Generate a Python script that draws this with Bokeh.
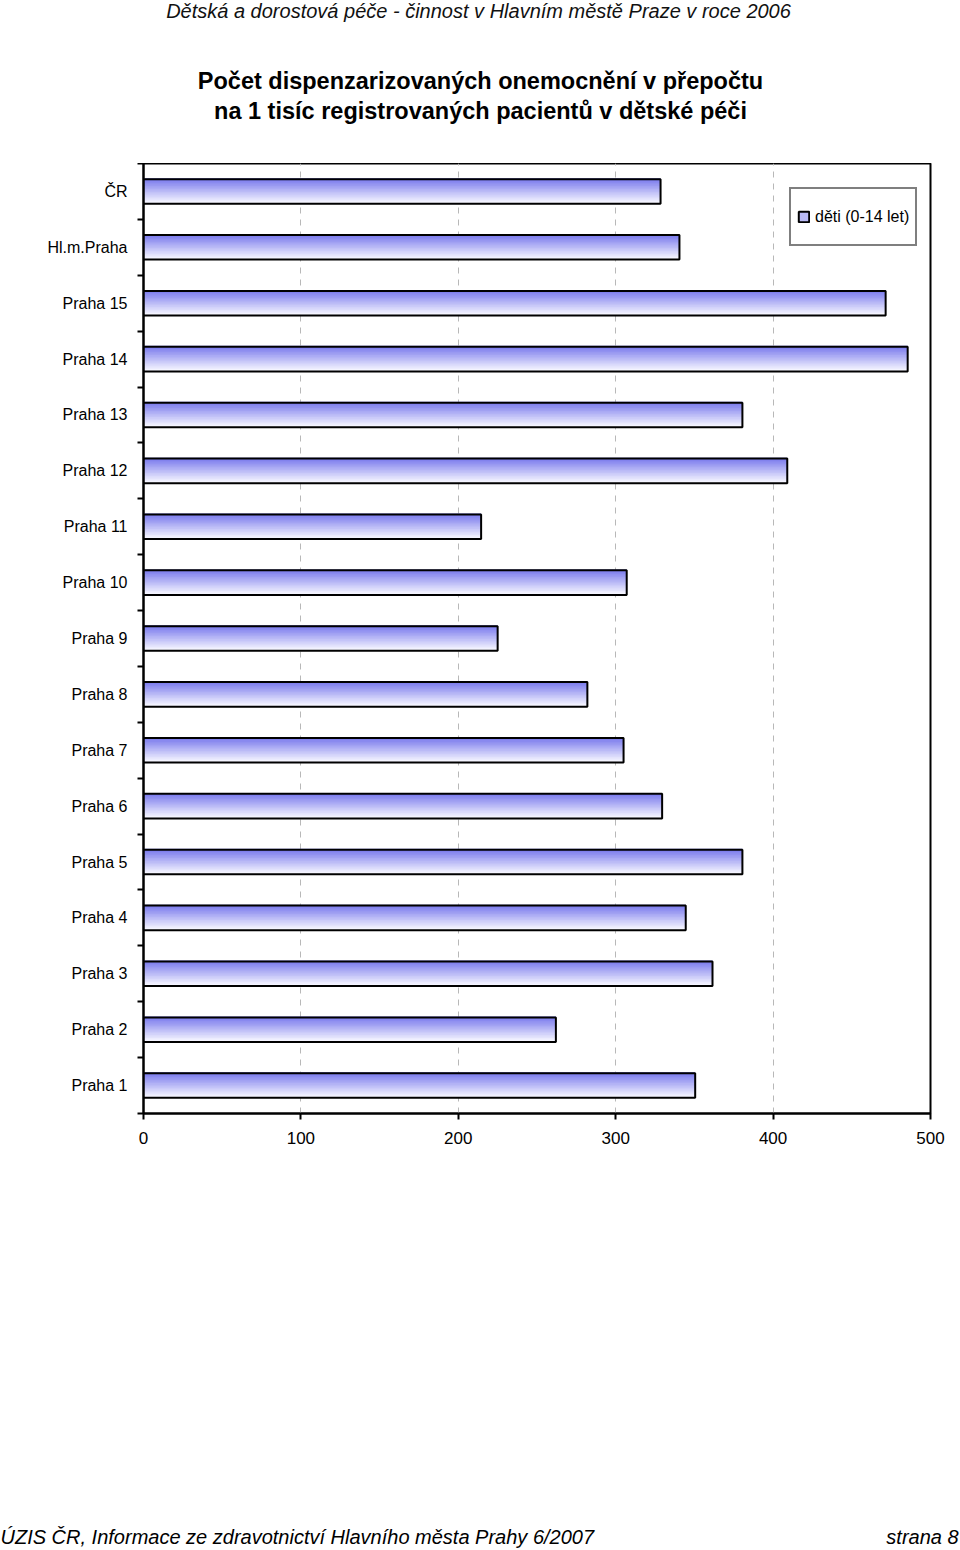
from bokeh.plotting import figure
from bokeh.layouts import column
from bokeh.models import Range1d, FixedTicker, Legend, LegendItem, LinearAxis
from bokeh.core.properties import value
from bokeh.embed import file_html
from bokeh.resources import INLINE

categories = ["ČR", "Hl.m.Praha", "Praha 15", "Praha 14", "Praha 13", "Praha 12",
              "Praha 11", "Praha 10", "Praha 9", "Praha 8", "Praha 7", "Praha 6",
              "Praha 5", "Praha 4", "Praha 3", "Praha 2", "Praha 1"]
values = [328.5, 340.5, 471.5, 485.5, 380.5, 409.0, 214.5, 307.0, 225.0, 282.0,
          305.0, 329.5, 380.5, 344.5, 361.5, 262.0, 350.5]
x_ticks = [0, 100, 200, 300, 400, 500]
series_name = "děti (0-14 let)"
header_text = "Dětská a dorostová péče - činnost v Hlavním městě Praze v roce 2006"
title_lines = ["Počet dispenzarizovaných onemocnění v přepočtu",
               "na 1 tisíc registrovaných pacientů v dětské péči"]
footer_left = "ÚZIS ČR, Informace ze zdravotnictví Hlavního města Prahy 6/2007"
footer_right = "strana 8"

FONT = "Liberation Sans"
n = len(categories)
centers = [n - i - 0.5 for i in range(n)]
boundaries = list(range(n + 1))

W, H = 960, 1550
FL, FR, FT, FB = 143, 930, 163, 1113
MAIN_BOTTOM = 1175

def blank(height, y0, bottom=0):
    # page-pixel coordinates; the frame is aligned with the main chart's frame
    f = figure(width=W, height=height, output_backend="svg", toolbar_location=None,
               x_range=Range1d(FL, FR), y_range=Range1d(y0 + height - bottom, y0),
               min_border_left=FL, min_border_right=W - FR,
               min_border_top=0, min_border_bottom=bottom)
    f.axis.visible = False
    f.grid.visible = False
    f.outline_line_color = None
    return f

# header
head = blank(FT, 0)
head.text(x=[478], y=[10], text=[header_text], text_font=value(FONT),
          text_font_size="20px", text_font_style="italic", text_align="center",
          text_baseline="middle", text_color="#111111")
head.text(x=[480, 480], y=[80, 110], text=title_lines, text_font=value(FONT),
          text_font_size="23.5px", text_font_style="bold", text_align="center",
          text_baseline="middle", text_color="black")

# main chart
p = figure(width=W, height=MAIN_BOTTOM - FT, output_backend="svg", toolbar_location=None,
           x_range=Range1d(0, 500), y_range=Range1d(0, n),
           min_border_left=FL, min_border_right=W - FR,
           min_border_top=0, min_border_bottom=MAIN_BOTTOM - FB)
p.outline_line_color = "black"
p.outline_line_width = 2

bar_h = 0.44
nstrip = 16
top_c = (120, 120, 236)
bot_c = (244, 244, 255)
strips = []
for k in range(nstrip):
    t = k / (nstrip - 1)
    c = tuple(int(round(top_c[j] + (bot_c[j] - top_c[j]) * t)) for j in range(3))
    col = "#%02x%02x%02x" % c
    sh = bar_h / nstrip
    off = bar_h / 2 - sh * (k + 0.5)
    r = p.hbar(y=[cy + off + sh * 0.3 for cy in centers], right=values, left=0,
               height=sh * 1.6, fill_color=col, line_color=None)
    strips.append(r)
outline = p.hbar(y=centers, right=values, left=0, height=bar_h, fill_alpha=0,
                 line_color="black", line_width=2)

p.xaxis.ticker = FixedTicker(ticks=x_ticks)
p.xaxis.major_tick_out = 6
p.xaxis.major_tick_in = 0
p.xaxis.minor_tick_out = 0
p.xaxis.axis_line_width = 2
p.xaxis.major_tick_line_width = 2
p.xaxis.major_label_text_font = FONT
p.xaxis.major_label_text_font_size = "17px"
p.xaxis.major_label_text_color = "black"
p.xaxis.major_label_standoff = 12

p.yaxis.ticker = FixedTicker(ticks=centers, minor_ticks=boundaries)
p.yaxis.major_label_overrides = {c: lab for c, lab in zip(centers, categories)}
p.yaxis.major_tick_out = 0
p.yaxis.major_tick_in = 0
p.yaxis.minor_tick_out = 6
p.yaxis.minor_tick_in = 0
p.yaxis.minor_tick_line_width = 2
p.yaxis.axis_line_width = 2
p.yaxis.major_label_text_font = FONT
p.yaxis.major_label_text_font_size = "16px"
p.yaxis.major_label_text_color = "black"
p.yaxis.major_label_standoff = 10

p.ygrid.grid_line_color = None
p.xgrid.ticker = FixedTicker(ticks=[100, 200, 300, 400])
p.xgrid.grid_line_color = "#b8b8b8"
p.xgrid.grid_line_dash = "6 6"
p.xgrid.grid_line_width = 1

legend = Legend(items=[LegendItem(label=series_name, renderers=[strips[nstrip // 2], outline])],
                location=(646, 867), border_line_color="black", border_line_width=2,
                padding=6, label_height=43, glyph_width=13, glyph_height=13,
                label_standoff=5, label_text_font=FONT, label_text_font_size="16px",
                label_text_color="black",
                background_fill_color="white", background_fill_alpha=1, margin=0)
p.add_layout(legend, "center")

# footer: texts carried by an axis below a blank frame (axis labels are not clipped)
FOOT_BOTTOM = 25
foot = blank(H - MAIN_BOTTOM, MAIN_BOTTOM, bottom=FOOT_BOTTOM)
left_center = 295
right_center = 922
fax = LinearAxis(ticker=FixedTicker(ticks=[left_center, right_center]),
                 major_label_overrides={left_center: footer_left, right_center: footer_right},
                 axis_line_color=None, major_tick_line_color=None,
                 minor_tick_line_color=None, major_tick_out=0, major_tick_in=0,
                 major_label_standoff=3, major_label_text_font=FONT,
                 major_label_text_font_size="20px", major_label_text_font_style="italic",
                 major_label_text_color="black")
foot.add_layout(fax, "below")

layout = column(head, p, foot, spacing=0)
open("out.html", "w").write(file_html(layout, INLINE))
